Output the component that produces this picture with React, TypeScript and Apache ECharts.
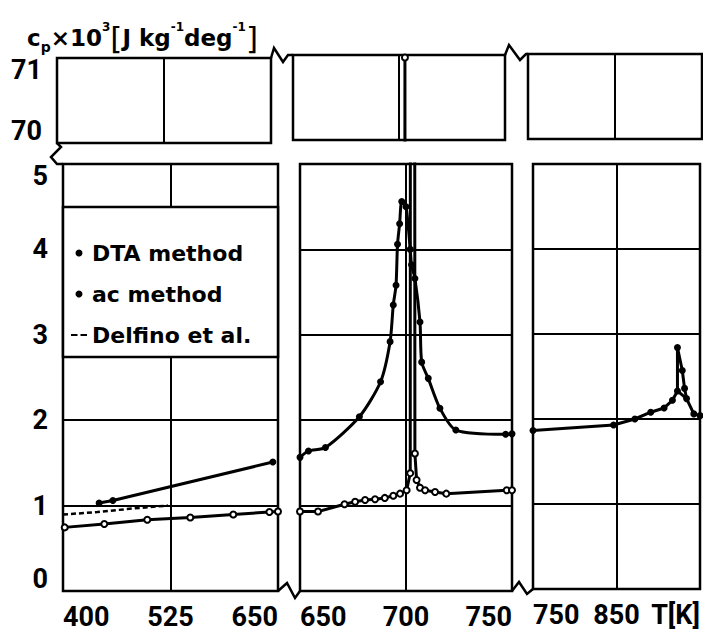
import React, { useEffect, useRef } from 'react';
import * as echarts from 'echarts';

// ---- tick values ----
const leftTicks = [400, 525, 650];
const midTicks = [650, 700, 750];
const rightTicks = [750, 850, 950];
const rightTickLabels = [750, 850];
const lowerRange = [0, 5];
const upperRange = [70, 71];

// ---- data: [T (K), cp x 10^-3 (J kg^-1 deg^-1)] ----
const dtaLeft = [[442, 1.03], [458, 1.06], [644, 1.51]];
const acLeft = [[402, 0.745], [448, 0.785], [498, 0.835], [548, 0.86], [598, 0.895], [640, 0.925], [650, 0.93]];
const delfinoLeft = [[400, 0.895], [440, 0.925], [480, 0.965], [522, 1.0]];

const dtaMid = [
  [650, 1.565], [654, 1.64], [662, 1.68], [678, 2.04], [688, 2.45], [692.5, 2.92], [694, 3.35],
  [695.3, 3.58], [696, 4.06], [697, 4.3], [698, 4.56], [700, 4.5], [702, 4.0], [702.6, 3.82],
  [704.2, 3.66], [706.6, 3.15], [707.4, 2.68], [710.5, 2.49], [716, 2.14], [723.5, 1.885],
  [747, 1.835], [750, 1.84],
];
const acMid = [
  [650, 0.93], [658.5, 0.93], [671, 1.015], [676, 1.045], [680.7, 1.065], [685.4, 1.075], [690, 1.09],
  [694, 1.115], [697.2, 1.14], [700.3, 1.18], [702, 1.38], [702.8, 70.97], [704.2, 1.61], [705, 1.3],
  [706.6, 1.21], [709, 1.18], [713.7, 1.16], [719, 1.14], [747.5, 1.18], [750, 1.18],
];

const dtaRight = [
  [750, 1.865], [846.5, 1.93], [872, 2.0], [891, 2.08], [907, 2.13], [917, 2.22], [923, 2.33],
  [923, 2.84], [928.8, 2.57], [931.5, 2.36], [933.9, 2.24], [942.6, 2.06], [950, 2.04],
];
const dtaRightInner = [[923, 2.33], [933.9, 2.24]];

const K = '#000';
const tickFont = { fontFamily: 'Roboto', fontWeight: 'bold' as const, fontSize: 27, lineHeight: 24, color: K };
const dashIcon = 'path://M0,0M16,7M0,2.4h6.5v2.2h-6.5zM9.5,2.4h6.5v2.2h-6.5z';

export default function App() {
  const ref = useRef<HTMLDivElement>(null);
  useEffect(() => {
    const chart = echarts.init(ref.current!, null, { renderer: 'svg' });

    const gridBoxes = [
      { left: 57, top: 58, width: 214, height: 85 },
      { left: 293, top: 55, width: 212, height: 85 },
      { left: 528, top: 54, width: 174, height: 85 },
      { left: 63, top: 164, width: 215, height: 427 },
      { left: 300, top: 164, width: 212, height: 427 },
      { left: 533, top: 164, width: 170, height: 425 },
    ];
    const grid = gridBoxes.map((g) => ({ ...g, show: true, borderColor: K, borderWidth: 2.5, backgroundColor: 'transparent' }));

    const cols = [
      { min: leftTicks[0], max: leftTicks[2], ticks: leftTicks, labels: leftTicks },
      { min: midTicks[0], max: midTicks[2], ticks: midTicks, labels: midTicks },
      { min: rightTicks[0], max: rightTicks[2], ticks: rightTicks, labels: rightTickLabels },
    ];

    const xAxis = gridBoxes.map((_, i) => {
      const c = cols[i % 3];
      const bottom = i >= 3;
      return {
        type: 'value', gridIndex: i, min: c.min, max: c.max,
        axisLine: { show: false },
        axisTick: { show: false, customValues: c.ticks },
        splitLine: { show: true, lineStyle: { color: K, width: 2 } },
        axisLabel: bottom
          ? { show: true, customValues: c.labels, margin: 14, ...tickFont, alignMinLabel: 'left', alignMaxLabel: i === 5 ? 'center' : 'right', formatter: (v: number) => String(v) }
          : { show: false },
        name: i === 5 ? 'T[K]' : '',
        nameLocation: 'end', nameGap: 0,
        nameTextStyle: { ...tickFont, align: 'right', verticalAlign: 'top', padding: [14, 0, 0, 0] },
      };
    });

    const yAxis = gridBoxes.map((_, i) => {
      const top = i < 3;
      const r = top ? upperRange : lowerRange;
      return {
        type: 'value', gridIndex: i, min: r[0], max: r[1], interval: 1,
        axisLine: { show: false }, axisTick: { show: false },
        splitLine: { show: !top, lineStyle: { color: K, width: 2 } },
        axisLabel: i % 3 === 0
          ? { show: true, margin: 15, ...tickFont, verticalAlignMinLabel: 'bottom', verticalAlignMaxLabel: 'top' }
          : { show: false },
      };
    });

    const dta = (data: number[][], idx: number, smooth = 0) => ({
      type: 'line', name: 'DTA method', data, xAxisIndex: idx, yAxisIndex: idx, clip: true,
      symbol: 'circle', symbolSize: 7, showSymbol: true, silent: true,
      smooth,
      itemStyle: { color: K }, lineStyle: { color: K, width: 3 }, z: 3,
    });
    const ac = (data: number[][], idx: number) => ({
      type: 'line', name: 'ac method', data, xAxisIndex: idx, yAxisIndex: idx, clip: true,
      symbol: 'circle', symbolSize: 6, showSymbol: true, silent: true,
      itemStyle: { color: '#fff', borderColor: K, borderWidth: 2 }, lineStyle: { color: K, width: 3 }, z: 3,
    });

    const series = [
      dta(dtaLeft, 3),
      ac(acLeft, 3),
      {
        type: 'line', name: 'Delfino et al.', data: delfinoLeft, xAxisIndex: 3, yAxisIndex: 3,
        symbol: 'none', silent: true, itemStyle: { color: K },
        lineStyle: { color: K, width: 2.5, type: [5, 3] }, z: 3,
      },
      dta(dtaMid, 4, 0.25),
      ac(acMid, 4),
      ac(acMid, 1),
      dta(dtaRight, 5),
      { ...dta(dtaRightInner, 5), symbolSize: 5 },
    ];

    const zig = (pts: number[][]) => ({
      type: 'polyline', z: 20, shape: { points: pts },
      style: { stroke: K, lineWidth: 2.5, fill: 'none' },
    });

    const option = {
      animation: false,
      backgroundColor: '#fff',
      grid, xAxis, yAxis, series,
      legend: {
        orient: 'vertical', left: 71, top: 242, padding: 0, itemGap: 19,
        itemWidth: 16, itemHeight: 7, selectedMode: false, z: 8,
        textStyle: { fontFamily: 'DejaVu Sans', fontWeight: 'bold', fontSize: 22, lineHeight: 22, color: K },
        data: [
          { name: 'DTA method', icon: 'circle', itemStyle: { color: K } },
          { name: 'ac method', icon: 'circle', itemStyle: { color: K, borderWidth: 0 } },
          { name: 'Delfino et al.', icon: dashIcon, itemStyle: { color: K, borderWidth: 0 } },
        ],
      },
      graphic: [
        {
          type: 'rect', z: 6, shape: { x: 63, y: 207, width: 215, height: 150 },
          style: { fill: '#fff', stroke: K, lineWidth: 2.5 },
        },
        {
          type: 'text', z: 10, left: 27, top: 21,
          style: {
            text: '{m|c}{s|p}{m|×10}{u|3}{b|[}{m|J kg}{u|-1}{m|deg}{u|-1}{b|]}',
            fill: K,
            rich: {
              m: { fontFamily: 'DejaVu Sans', fontWeight: 'bold', fontSize: 23, fill: K, verticalAlign: 'middle' },
              s: { fontFamily: 'DejaVu Sans', fontWeight: 'bold', fontSize: 14, fill: K, verticalAlign: 'bottom' },
              u: { fontFamily: 'DejaVu Sans', fontWeight: 'bold', fontSize: 12, fill: K, verticalAlign: 'top' },
              b: { fontFamily: 'DejaVu Sans', fontSize: 31, lineHeight: 33, fill: K, verticalAlign: 'middle' },
            },
          },
        },
        zig([[57, 143], [61, 147], [51, 157], [57, 164], [63, 164]]),
        zig([[271, 58], [274, 48], [283, 62], [288, 55], [293, 55]]),
        zig([[505, 55], [509, 45], [520, 60], [526, 54], [528, 54]]),
        zig([[278, 591], [287, 583], [295, 598], [300, 591]]),
        zig([[512, 591], [519, 582], [527, 594], [533, 589]]),
      ],
    };
    chart.setOption(option as any);
    return () => chart.dispose();
  }, []);
  return <div ref={ref} style={{ position: 'fixed', left: 0, top: 0, width: 703, height: 632 }} />;
}
